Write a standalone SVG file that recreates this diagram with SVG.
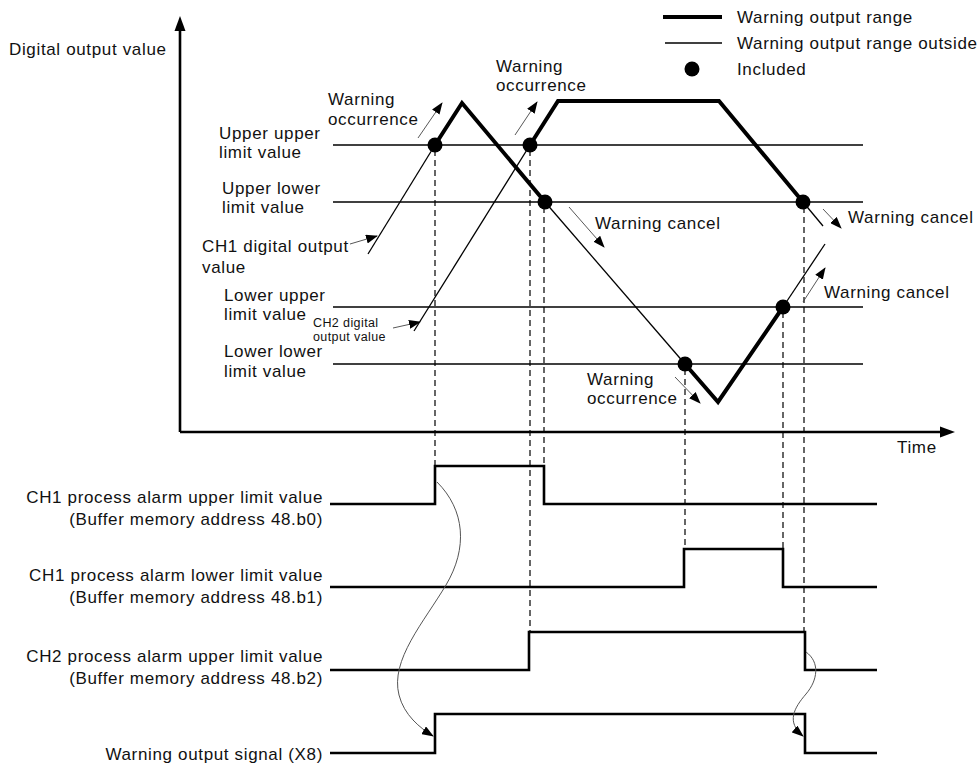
<svg xmlns="http://www.w3.org/2000/svg" width="980" height="764" viewBox="0 0 980 764">
<defs>
<marker id="ah" markerUnits="userSpaceOnUse" markerWidth="14" markerHeight="10" viewBox="0 0 14 10" refX="13" refY="5" orient="auto"><path d="M0,0 L14,5 L0,10 Z" fill="#000"/></marker>
<marker id="ahs" markerUnits="userSpaceOnUse" markerWidth="12" markerHeight="9" viewBox="0 0 12 9" refX="11" refY="4.5" orient="auto"><path d="M0,0 L12,4.5 L0,9 Z" fill="#000"/></marker>
</defs>
<style>
text{font-family:"Liberation Sans",Arial,sans-serif;font-size:17px;letter-spacing:0.65px;fill:#111}
.sm{font-size:12.5px;letter-spacing:0.4px}
.end{text-anchor:end}
.lim{stroke:#000;stroke-width:1.3;fill:none}
.thin{stroke:#000;stroke-width:1.3;fill:none}
.thick{stroke:#000;stroke-width:4;fill:none;stroke-linejoin:miter}
.dash{stroke:#000;stroke-width:1.2;stroke-dasharray:6,4;fill:none}
.sig{stroke:#000;stroke-width:2.6;fill:none}
.ptr{stroke:#444;stroke-width:0.9;fill:none}
.crv{stroke:#555;stroke-width:1;fill:none}
.axis{stroke:#000;stroke-width:2.6;fill:none}
</style>
<rect width="980" height="764" fill="#fff"/>

<g id="axes">
<line class="axis" x1="180" y1="432" x2="180" y2="30"/>
<path d="M180,16 L174.5,31 L185.5,31 Z" fill="#000"/>
<line class="axis" x1="180" y1="432" x2="942" y2="432"/>
<path d="M955,432 L940,426.5 L940,437.5 Z" fill="#000"/>
<text x="9" y="55">Digital output value</text>
<text x="897" y="453">Time</text>
</g>

<g id="legend">
<line x1="663" y1="17" x2="722" y2="17" stroke="#000" stroke-width="4"/>
<text x="737" y="23">Warning output range</text>
<line x1="665" y1="43" x2="722" y2="43" stroke="#000" stroke-width="1.3"/>
<text x="737" y="49">Warning output range outside</text>
<circle cx="692" cy="69" r="7.5" fill="#000"/>
<text x="737" y="75">Included</text>
</g>

<g id="limits">
<line class="lim" x1="333" y1="145" x2="863" y2="145"/>
<line class="lim" x1="333" y1="202" x2="863" y2="202"/>
<line class="lim" x1="333" y1="307" x2="863" y2="307"/>
<line class="lim" x1="333" y1="364" x2="863" y2="364"/>
<text x="219" y="139">Upper upper</text>
<text x="219" y="158">limit value</text>
<text x="222" y="194">Upper lower</text>
<text x="222" y="213">limit value</text>
<text x="224" y="301">Lower upper</text>
<text x="224" y="320">limit value</text>
<text x="224" y="357">Lower lower</text>
<text x="224" y="377">limit value</text>
</g>

<g id="dashes">
<line class="dash" x1="435" y1="150" x2="435" y2="466"/>
<line class="dash" x1="530" y1="150" x2="530" y2="632"/>
<line class="dash" x1="544" y1="207" x2="544" y2="466"/>
<line class="dash" x1="685" y1="369" x2="685" y2="549"/>
<line class="dash" x1="783" y1="312" x2="783" y2="549"/>
<line class="dash" x1="804" y1="207" x2="804" y2="632"/>
</g>

<g id="ch1">
<polyline class="thin" points="368,254 435,145"/>
<polyline class="thick" points="435,145 462,103 545,202"/>
<polyline class="thin" points="545,202 685,364"/>
<polyline class="thick" points="685,364 718,402 783,307"/>
<polyline class="thin" points="783,307 825,244"/>
<circle cx="435" cy="145" r="7.5" fill="#000"/>
<circle cx="545" cy="202" r="7.5" fill="#000"/>
<circle cx="685" cy="364" r="7.5" fill="#000"/>
<circle cx="783" cy="307" r="7.5" fill="#000"/>
<text x="202" y="252">CH1 digital output</text>
<text x="202" y="273">value</text>
<line class="ptr" x1="350" y1="244" x2="377" y2="236" marker-end="url(#ahs)"/>
</g>

<g id="ch2">
<polyline class="thin" points="414,331 530,145"/>
<polyline class="thick" points="530,145 558,101 719,101 803,202"/>
<polyline class="thin" points="803,202 823,226"/>
<circle cx="530" cy="145" r="7.5" fill="#000"/>
<circle cx="803" cy="202" r="7.5" fill="#000"/>
<text class="sm" x="313" y="327">CH2 digital</text>
<text class="sm" x="313" y="341">output value</text>
<line class="ptr" x1="393" y1="328" x2="420" y2="322" marker-end="url(#ahs)"/>
</g>

<g id="annotations">
<text x="328" y="105">Warning</text>
<text x="328" y="125">occurrence</text>
<line class="ptr" x1="418" y1="138" x2="442" y2="103" marker-end="url(#ahs)"/>
<text x="496" y="72">Warning</text>
<text x="496" y="91">occurrence</text>
<line class="ptr" x1="515" y1="135" x2="537" y2="102" marker-end="url(#ahs)"/>
<text x="595" y="229">Warning cancel</text>
<line class="ptr" x1="569" y1="207" x2="604" y2="247" marker-end="url(#ahs)"/>
<text x="848" y="223">Warning cancel</text>
<line class="ptr" x1="823" y1="209" x2="841" y2="228" marker-end="url(#ahs)"/>
<text x="824" y="298">Warning cancel</text>
<line class="ptr" x1="803" y1="302" x2="825" y2="268" marker-end="url(#ahs)"/>
<text x="587" y="385">Warning</text>
<text x="587" y="404">occurrence</text>
<line class="ptr" x1="675" y1="377" x2="700" y2="403" marker-end="url(#ahs)"/>
</g>

<g id="sig1">
<text class="end" x="323" y="503">CH1 process alarm upper limit value</text>
<text class="end" x="323" y="525">(Buffer memory address 48.b0)</text>
<polyline class="sig" points="330,504 435,504 435,466 544,466 544,504 877,504"/>
</g>
<g id="sig2">
<text class="end" x="323" y="581">CH1 process alarm lower limit value</text>
<text class="end" x="323" y="603">(Buffer memory address 48.b1)</text>
<polyline class="sig" points="330,587 684,587 684,549 783,549 783,587 877,587"/>
</g>
<g id="sig3">
<text class="end" x="323" y="662">CH2 process alarm upper limit value</text>
<text class="end" x="323" y="684">(Buffer memory address 48.b2)</text>
<polyline class="sig" points="330,670 529,670 529,632 805,632 805,670 877,670"/>
</g>
<g id="sig4">
<text class="end" x="323" y="760">Warning output signal (X8)</text>
<polyline class="sig" points="330,753 435,753 435,714 805,714 805,753 877,753"/>
</g>

<g id="connectors">
<path class="crv" d="M437,482 C465,510 468,548 446,585 C424,622 390,660 399,695 C404,715 420,728 433,736" marker-end="url(#ahs)"/>
<path class="crv" d="M806,652 C820,662 818,680 806,694 C794,708 786,722 803,736" marker-end="url(#ahs)"/>
</g>
</svg>
